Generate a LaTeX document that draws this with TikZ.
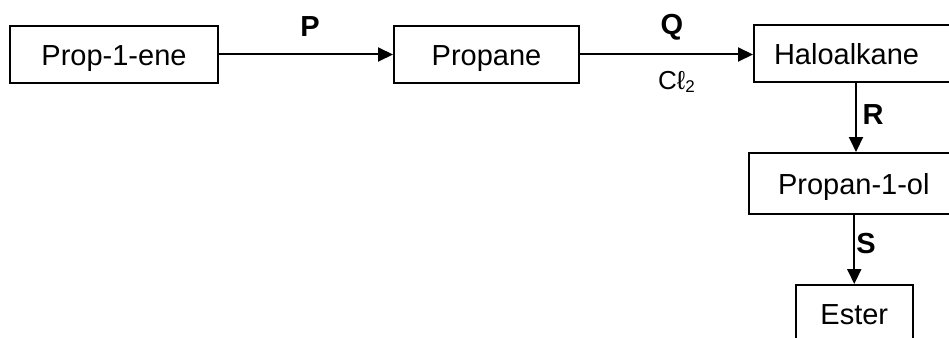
\documentclass[tikz,border=0pt]{standalone}
\usepackage{fontspec}
\setmainfont{Liberation Sans}
\usetikzlibrary{arrows.meta}

\begin{document}
\begin{tikzpicture}[x=1pt,y=-1pt,
    box/.style={draw,line width=2pt,minimum height=57pt,inner sep=0pt,
      font=\fontsize{29}{35}\selectfont,text height=26pt,text depth=5pt},
    arr/.style={line width=2pt,-{Triangle[length=15pt,width=14pt]}},
    lbl/.style={font=\fontsize{29}{35}\selectfont\bfseries,inner sep=0pt}]
    \path[use as bounding box,clip] (0,0) rectangle (949,337);

    \node[box,minimum width=208pt] (ene) at (114,54.5) {Prop-1-ene};
    \node[box,minimum width=185pt] (ane) at (486.5,54.5) {Propane};
    \node[box,anchor=west,text width=190pt,align=left,inner xsep=20pt] (halo) at (753,53.5) {Haloalkane};
    \node[box,anchor=west,minimum height=61pt,text width=190pt,align=left,inner xsep=29pt] (ol) at (748,183.5) {Propan-1-ol};
    \node[box,minimum width=117.5pt,minimum height=58pt] (ester) at (854.25,314) {Ester};

    \coordinate (rx) at (856,0);
    \draw[arr] (ene) -- (ane);
    \draw[arr] (ane.east) -- (ane.east -| halo.west);
    \draw[arr] (halo.south -| rx) -- (ol.north -| rx);
    \draw[arr] (ol.south -| ester.north) -- (ester.north);

    \node[lbl] (p) at (310,27) {P};
    \node[lbl] (q) at (672,27) {Q};
    \node[anchor=base,inner sep=0pt,font=\fontsize{26}{31}\selectfont] (cl) at (676.5,89) {Cℓ\raisebox{-3pt}{\fontsize{17}{20}\selectfont 2}};
    \node[lbl] (r) at (873,114.5) {R};
    \node[lbl] (s) at (866,244) {S};
\end{tikzpicture}
\end{document}
